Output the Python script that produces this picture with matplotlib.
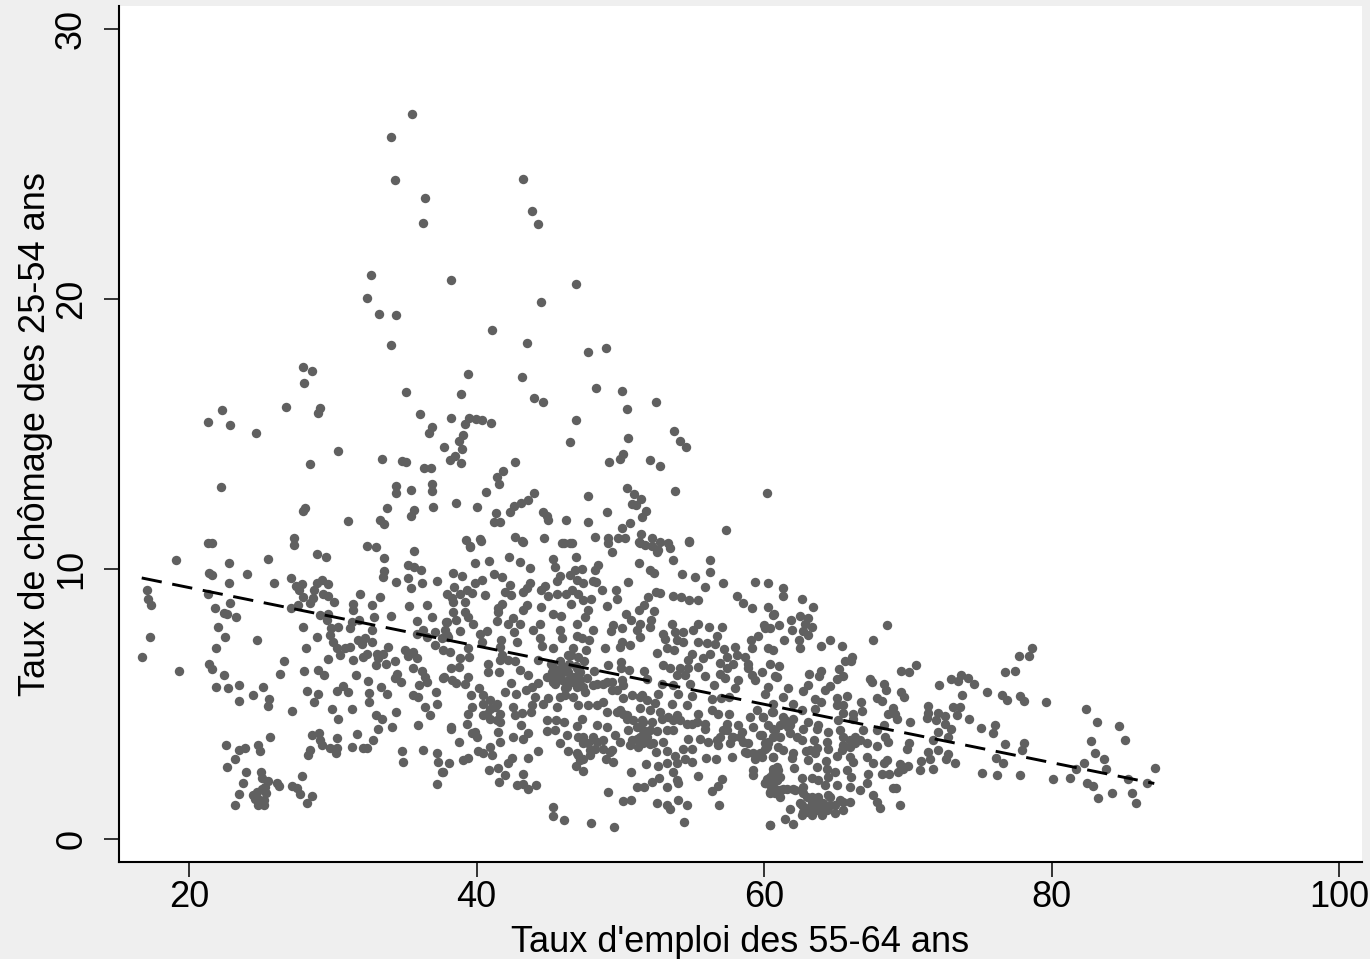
import matplotlib
matplotlib.use("Agg")
import matplotlib.pyplot as plt

plt.rcParams["font.family"] = ["Liberation Sans", "DejaVu Sans"]

# (taux d'emploi 55-64, taux de chomage 25-54)
top_points = [
    (35.5,26.85),(34.05,26.0),(34.33,24.4),(36.4,23.74),(36.3,22.8),(43.2,24.45),(43.86,23.26),(44.28,22.78),
    (32.66,20.89),(38.2,20.7),(46.9,20.56),(32.4,20.04),(44.5,19.9),(33.2,19.44),(34.4,19.4),(41.08,18.85),
    (34.05,18.3),(43.5,18.37),(49.0,18.2),(47.76,18.04),(27.93,17.48),(28.56,17.33),(39.4,17.22),(43.17,17.1),
    (28.0,16.89),(48.3,16.7),(50.1,16.6),(35.1,16.56),(38.9,16.5),(44.0,16.33),(44.63,16.19),(52.5,16.19),
    (26.75,16.0),(29.1,15.96),(29.0,15.78),(22.3,15.89),(50.5,15.93),(36.07,15.74),(21.3,15.44),(22.85,15.33),
    (24.66,15.04),(38.2,15.6),(39.48,15.6),(39.97,15.56),(40.38,15.52),(41.0,15.41),(46.9,15.52),(36.9,15.26),
    (36.7,15.04),(53.74,15.11),(54.16,14.74),(54.57,14.52),(46.5,14.7),(50.54,14.85),(39.2,15.37),(39.06,14.96),
    (38.78,14.74),(39.0,14.44),(38.5,14.19),(38.16,14.04),(38.9,13.93),(37.74,14.52),(30.37,14.37),(28.42,13.89),
    (33.43,14.07),(34.8,14.0),(35.1,13.96),(36.35,13.74),(36.83,13.74),(42.68,13.96),(49.2,13.96),(50.2,14.26),
    (50.0,14.07),(52.07,14.04),(52.76,13.81),(41.84,13.63),(41.43,13.41),(22.2,13.04),(34.4,13.07),(41.57,13.15),
    (36.9,13.15),(36.9,12.89),(34.4,12.8),(35.44,12.93),(40.66,12.85),(50.47,13.0),(53.8,12.89),(60.2,12.81),
    (47.76,12.7),(50.96,12.78),(51.44,12.6),(44.0,12.81),(43.58,12.56),(43.1,12.44),(42.6,12.33),(33.77,12.26),
    (28.1,12.26),(27.96,12.15),(35.65,12.19),(35.44,11.96),(36.97,12.3),(38.57,12.44),(40.0,12.3),(42.33,12.11),
    (41.36,12.07),(41.2,11.74),(41.63,11.74),(44.63,12.11),(44.9,11.96),(44.97,11.81),(46.2,11.81),(47.76,11.74),
    (49.08,12.11),(51.1,12.37),(50.8,12.4),(51.8,12.15),(51.5,11.93),(50.68,11.7),(50.1,11.52),(57.36,11.44),
    (31.06,11.78),(33.29,11.81),(33.57,11.67),(32.4,10.85),(33.0,10.81),(27.3,11.15),(27.3,10.89),(21.3,10.96),
    (21.6,10.96),(39.27,11.07),(39.55,10.85),(40.24,11.11),(42.68,11.19),(43.17,11.04),(44.7,11.15),(45.95,10.96),
    (46.5,10.96),(48.24,11.19),(49.15,11.15),(49.84,11.15),(50.33,11.15),(51.44,11.3),(51.3,11.0),(51.7,10.89),
    (52.2,11.15),(52.76,11.0),(52.6,10.7),(54.78,11.04),(53.46,10.78),
]

left_points = [
    (28.88,10.55),(29.53,10.43),(19.07,10.35),(25.52,10.38),(33.59,10.4),(35.68,10.67),(22.76,10.23),(35.26,10.16),
    (35.65,10.08),(36.14,9.98),(21.41,9.86),(21.6,9.79),(24.06,9.8),(33.57,9.93),(33.47,9.69),(27.1,9.66),
    (22.78,9.49),(25.94,9.47),(34.4,9.53),(35.26,9.67),(36.19,9.47),(37.28,9.56),(29.23,9.59),(28.88,9.49),
    (29.69,9.44),(27.84,9.44),(27.44,9.37),(27.68,9.22),(28.7,9.24),(29.3,9.09),(35.42,9.29),(17.06,9.24),
    (17.17,8.9),(17.38,8.66),(21.34,9.09),(31.9,9.09),(33.29,8.97),(37.92,9.09),(38.27,8.91),(27.95,8.97),
    (28.65,8.91),(28.42,8.75),(29.69,8.99),(30.09,8.77),(22.88,8.76),(31.43,8.72),(32.71,8.67),(35.3,8.64),
    (36.58,8.65),(21.81,8.55),(22.43,8.39),(22.62,8.35),(23.29,8.24),(27.07,8.54),(27.6,8.66),(31.43,8.48),
    (29.11,8.29),(29.69,8.35),(29.58,8.13),(32.89,8.24),(34.08,8.27),(36.88,8.23),(31.85,8.13),(31.32,8.05),
    (31.2,7.8),(35.88,8.06),(37.92,8.05),(22.04,7.87),(27.95,7.86),(30.34,7.86),(29.85,7.8),(32.71,7.74),
    (36.26,7.76),(37.11,7.68),(37.81,7.74),(17.29,7.5),(22.53,7.49),(28.93,7.5),(29.81,7.55),(35.84,7.59),
    (36.53,7.49),(37.58,7.43),(38.04,7.49),(24.71,7.38),(30.04,7.3),(31.78,7.37),(32.24,7.43),(32.71,7.3),
    (32.01,7.24),(21.88,7.06),(28.12,7.06),(30.27,7.06),(31.2,7.12),(30.85,7.06),(37.11,7.18),(33.87,7.12),
    (35.03,7.0),(35.61,6.93),(37.65,7.0),(16.71,6.76),(30.5,6.81),(32.36,6.87),(33.05,6.87),(33.52,6.87),
    (35.26,6.77),(32.13,6.75),(29.67,6.67),(31.41,6.65),(35.84,6.69),(26.59,6.6),(33.12,6.72),(34.35,6.6),
    (33.01,6.44),(33.7,6.5),(19.33,6.22),(21.41,6.47),(21.62,6.28),(35.61,6.35),(36.19,6.23),(28.02,6.24),
    (28.95,6.26),(29.41,6.09),(26.31,6.11),(22.41,6.09),(31.59,6.07),(34.45,6.11),(34.33,5.95),(36.42,6.01),
    (37.69,5.98),(32.43,5.87),(34.75,5.82),(36.53,5.82),(21.9,5.65),(22.74,5.58),(23.5,5.7),(25.12,5.64),
    (30.69,5.66),(33.36,5.64),(36.02,5.7),(24.48,5.33),(28.23,5.48),(30.27,5.48),(31.08,5.43),(32.54,5.42),
    (29.0,5.37),(33.75,5.37),(35.61,5.35),(35.95,5.27),(37.16,5.45),(23.48,5.13),(25.57,5.17),(25.47,4.92),
    (28.7,5.08),(32.54,5.06),(29.92,4.83),(31.34,4.83),(37.23,5.0),(36.39,4.9),(27.14,4.74),(34.4,4.71),
    (32.99,4.59),(36.76,4.6),(30.39,4.43),(33.45,4.43),(35.95,4.24),(34.15,4.16),(33.17,4.08),(31.71,3.9),
    (29.04,3.93),(28.53,3.85),(29.11,3.66),(30.3,3.76),(32.8,3.66),(25.63,3.77),(22.57,3.48),(24.82,3.48),
    (23.9,3.39),(23.48,3.3),(24.94,3.27),(29.23,3.5),(29.81,3.39),(30.27,3.39),(30.23,3.19),(31.34,3.42),
    (32.08,3.37),(32.41,3.37),(34.79,3.28),(36.28,3.29),(28.42,3.29),(28.26,3.11),(23.18,2.98),(37.28,3.19),
    (34.91,2.84),(37.34,2.85),(22.62,2.67),(23.97,2.49),(24.99,2.5),(37.62,2.5),(27.88,2.34),(25.1,2.28),
    (25.52,2.16),(26.1,2.09),(26.28,1.97),(23.73,2.06),(37.28,2.04),(27.19,1.98),(27.49,1.91),(25.29,1.93),
    (25.06,1.87),(24.71,1.75),(24.48,1.63),(23.5,1.66),(27.72,1.66),(28.56,1.6),(25.33,1.69),(24.82,1.5),
    (25.22,1.44),(23.2,1.28),(24.78,1.28),(25.22,1.28),(28.19,1.35),(24.59,1.5),
]

middle_points = [
    (39.55,10.82),(40.29,11.05),(43.26,11.0),(46.09,10.97),(46.62,10.97),(49.17,10.95),(49.45,10.64),(51.37,10.97),
    (52.19,10.85),(52.58,10.64),(53.35,10.97),(54.81,11.0),(42.26,10.45),(40.87,10.28),(39.87,10.21),(43.03,10.25),
    (43.72,10.03),(45.34,10.39),(45.46,10.08),(46.92,10.45),(48.48,10.14),(48.24,9.96),(51.3,10.24),(53.69,10.33),
    (56.24,10.33),(52.07,9.98),(52.37,9.86),(56.24,9.9),(54.27,9.81),(55.2,9.71),(38.39,9.84),(38.97,9.75),
    (41.24,9.81),(41.8,9.71),(40.36,9.59),(39.9,9.47),(42.33,9.4),(43.72,9.49),(43.49,9.28),(45.81,9.74),
    (45.58,9.56),(46.85,9.96),(47.32,10.02),(46.5,9.77),(46.97,9.59),(47.43,9.5),(48.13,9.56),(48.31,9.53),
    (50.56,9.53),(57.17,9.48),(59.37,9.53),(60.3,9.49),(55.9,9.34),(38.43,9.32),(39.31,9.22),(38.85,9.09),
    (39.66,9.13),(40.59,9.03),(41.98,9.16),(42.38,9.03),(44.76,9.37),(44.46,9.22),(43.26,9.16),(44.96,8.99),
    (45.58,9.09),(46.23,9.09),(46.62,9.22),(47.08,9.09),(47.43,8.85),(47.96,8.88),(48.71,9.24),(49.68,9.22),
    (49.8,8.9),(52.49,9.16),(52.76,9.13),(51.91,8.97),(53.65,8.99),(54.2,8.97),(54.81,8.85),(55.43,8.87),
    (58.15,9.02),(58.56,8.75),(59.19,8.56),(38.39,8.79),(39.2,8.79),(41.75,8.72),(41.52,8.54),(41.52,8.42),
    (46.55,8.7),(44.49,8.6),(43.49,8.66),(43.21,8.5),(49.06,8.63),(51.65,8.66),(51.3,8.48),(52.35,8.45),
    (60.3,8.6),(60.65,8.29),(38.39,8.42),(39.2,8.42),(39.43,8.21),(45.34,8.35),(45.85,8.27),(47.78,8.48),
    (47.55,8.21),(50.38,8.33),(50.73,8.11),(51.37,7.98),(52.12,8.11),(52.07,7.86),(37.88,8.05),(38.57,8.13),
    (39.78,7.96),(41.4,8.07),(42.52,8.17),(42.21,7.98),(43.03,7.96),(44.42,7.96),(47.01,7.96),(53.62,7.95),
    (55.43,7.96),(56.2,7.86),(57.06,7.84),(59.99,7.92),(38.85,7.71),(40.71,7.71),(40.24,7.61),(42.61,7.67),
    (43.95,7.74),(45.81,7.74),(48.13,7.74),(49.52,7.92),(49.33,7.71),(50.14,7.8),(51.14,7.74),(52.99,7.58),
    (53.81,7.67),(54.39,7.67),(55.04,7.74),(60.42,7.8),(59.61,7.51),(37.92,7.55),(44.42,7.46),(46.97,7.51),
    (45.92,7.43),(47.85,7.37),(47.32,7.43),(51.37,7.49),(56.71,7.51),(53.11,7.4),(53.97,7.39),(40.36,7.3),
    (41.7,7.39),(42.79,7.3),(50.1,7.3),(50.68,7.18),(49.98,7.12),(54.39,7.3),(55.43,7.3),(56.01,7.27),
    (56.59,7.22),(59.07,7.37),(39.43,7.06),(41.63,7.12),(44.53,7.14),(45.34,7.08),(48.94,7.06),(47.59,6.99),
    (46.74,7.06),(53.23,7.09),(53.76,6.99),(57.22,7.03),(57.98,7.12),(59.19,7.06),(60.3,7.09),(60.65,6.99),
    (38.16,6.93),(39.5,6.75),(52.58,6.9),(54.97,6.85),(56.24,6.87),(41.75,6.81),(46.39,6.81),(47.08,6.75),
    (38.85,6.69),(41.63,6.63),(42.21,6.65),(44.3,6.63),(45.81,6.6),(55.78,6.72),(54.74,6.63),(58.1,6.81),
    (58.68,6.75),(57.4,6.75),(40.82,6.48),(38.8,6.38),(38.2,6.35),(42.68,6.6),(49.17,6.43),(50.05,6.56),
    (50.05,6.32),(52.99,6.44),(56.94,6.53),(57.87,6.5),(58.91,6.5),(60.42,6.48),(55.43,6.38),(53.46,6.32),
    (54.16,6.32),(54.74,6.32),(45.34,6.38),(46.04,6.38),(46.97,6.32),(43.03,6.26),(41.59,6.19),(40.82,6.17),
    (48.2,6.22),(50.63,6.26),(51.65,6.23),(57.4,6.32),(58.91,6.32),(43.6,6.09),(55.9,6.05),(56.94,6.13),
    (53.92,6.07),(54.5,6.07),(59.84,6.17),(60.88,6.01),(59.14,6.07),(39.43,6.01),(37.74,6.01),(38.27,5.88),
    (44.88,6.01),(45.81,6.07),(46.5,5.95),(47.08,6.07),(47.66,5.95),(49.05,5.82),(50.1,5.88),(51.84,5.91),
    (57.29,5.98),(58.21,5.88),(59.37,5.88),(39.2,5.76),(38.57,5.79),(42.4,5.79),(44.3,5.79),(43.84,5.64),
    (45.34,5.82),(52.88,5.76),(54.85,5.76),(53.69,5.7),(56.52,5.69),(57.98,5.58),(60.3,5.64),(50.21,5.7),
    (48.13,5.7),(40.2,5.58),(41.98,5.45),(42.75,5.39),(43.44,5.51),(46.27,5.64),(46.97,5.64),(47.43,5.64),
    (49.4,5.51),(52.65,5.39),(54.04,5.39),(54.97,5.3),(60.07,5.39),(39.59,5.33),(40.47,5.33),(44.07,5.27),
    (44.98,5.21),(46.15,5.33),(46.74,5.27),(50.21,5.21),(51.49,5.33),(51.84,5.14),(56.36,5.17),(57.59,5.27),
    (56.99,5.21),(40.47,5.02),(41.4,5.02),(42.56,4.9),(43.84,4.96),(44.65,5.02),(45.58,4.9),(47.08,4.96),
    (47.78,4.96),(48.82,5.08),(48.36,4.96),(51.37,4.86),(52.42,5.04),(53.58,5.02),(54.62,4.96),(39.66,4.9),
    (40.94,4.83),(39.43,4.65),(43.77,4.71),(49.06,4.71),(49.75,4.71),(52.07,4.77),(52.76,4.71),(53.92,4.59),
    (55.43,4.65),(56.36,4.77),(56.82,4.65),(57.59,4.63),(59.03,4.53),(59.49,4.77),(59.91,4.53),(60.53,4.71),
    (40.47,4.59),(42.68,4.59),(43.14,4.67),(41.63,4.65),(50.21,4.65),(40.94,4.46),(41.63,4.34),(39.31,4.28),
    (38.23,4.16),(43.09,4.24),(44.88,4.4),(45.53,4.4),(46.09,4.32),(47.32,4.43),(50.45,4.46),(51.49,4.4),
    (52.19,4.34),(52.88,4.46),(53.69,4.4),(54.62,4.28),(55.32,4.34),(55.9,4.28),(57.4,4.28),(58.21,4.22),
    (59.26,4.16),(46.97,4.18),(48.36,4.22),(49.06,4.16),(38.23,4.09),(41.52,3.97),(39.87,3.97),(44.88,4.01),
    (45.46,4.03),(46.27,3.85),(49.63,3.85),(50.56,4.03),(51.61,4.03),(52.53,4.01),(53.23,4.03),(55.9,4.09),
    (57.17,4.03),(58.44,3.97),(59.72,3.85),(60.65,4.09),(39.66,3.91),(40.01,3.79),(42.52,3.79),(43.6,3.91),
    (43.21,3.69),(47.08,3.79),(48.13,3.79),(51.14,3.72),(51.84,3.79),(54.69,3.7),(56.94,3.79),(57.87,3.79),
    (55.55,3.72),(38.8,3.6),(41.63,3.6),(45.81,3.54),(47.43,3.54),(48.36,3.6),(49.98,3.6),(50.68,3.48),
    (51.26,3.41),(52.07,3.51),(52.99,3.6),(56.13,3.6),(58.56,3.6),(60.3,3.6),(40.94,3.42),(40.13,3.27),
    (40.47,3.19),(41.1,3.11),(44.25,3.27),(46.39,3.26),(48.82,3.35),(49.4,3.29),(52.49,3.23),(53.23,3.27),
    (54.39,3.35),(54.97,3.35),(56.82,3.48),(57.75,3.05),(58.79,3.17),(60.07,3.35),(43.6,3.02),(46.97,3.17),
    (47.9,3.11),(39.43,3.02),(39.04,2.92),(38.09,2.8),(42.45,3.02),(42.21,2.8),(47.2,2.92),(49.52,2.86),
    (48.98,2.95),(53.81,3.08),(54.5,2.98),(55.97,3.02),(56.66,2.98),(59.37,2.98),(60.65,3.05),(54.97,2.86),
    (51.77,2.77),(52.6,2.71),(53.23,2.8),(53.97,2.8),(46.92,2.72),(40.89,2.55),(41.52,2.65),(47.43,2.53),
    (50.72,2.49),(37.69,2.49),(41.98,2.37),(43.21,2.4),(59.21,2.55),(59.26,2.37),(60.65,2.61),(53.69,2.49),
    (52.72,2.28),(55.39,2.34),(41.59,2.13),(42.79,2.02),(43.26,2.03),(44.12,2.02),(43.58,1.87),(52.19,2.12),
    (53.92,2.18),(57.06,2.22),(60.3,2.18),(60.77,2.24),(51.14,1.93),(51.68,1.93),(53.23,1.93),(54.04,2.08),
    (56.78,1.96),(56.36,1.79),(49.12,1.75),(60.42,1.69),(61.0,1.81),(50.17,1.42),(50.72,1.44),(52.53,1.32),
    (53.23,1.25),(54.04,1.44),(54.62,1.28),(53.46,1.13),(56.87,1.28),(45.3,1.19),(45.34,0.85),(46.11,0.72),
    (47.96,0.58),(49.59,0.43),(54.41,0.65),(60.4,0.51),
    (46.0,6.2),(46.4,6.5),(46.8,6.0),(46.2,5.8),(45.8,6.3),(47.2,6.2),(46.6,6.8),(47.0,5.7),
    (45.5,6.0),(46.9,6.4),(47.5,6.6),(45.2,6.5),
]

right_points = [
    (61.3,9.28),(61.3,9.01),(62.62,8.88),(63.41,8.58),(60.69,8.35),(61.85,8.1),(62.5,8.26),(63.08,8.19),
    (62.85,7.98),(63.31,7.84),(61.04,7.92),(61.97,7.76),(62.73,7.71),(63.04,7.55),(60.07,7.8),(68.56,7.92),
    (67.56,7.39),(61.39,7.39),(62.46,7.37),(62.5,7.08),(63.94,7.14),(64.57,7.38),(65.4,7.14),(66.1,6.75),
    (65.63,6.6),(66.03,6.6),(61.06,6.4),(70.55,6.43),(69.55,6.23),(70.06,6.17),(78.67,7.06),(77.72,6.77),
    (78.46,6.77),(76.79,6.19),(77.44,6.22),(73.01,5.91),(73.68,6.07),(73.52,5.86),(74.17,5.96),(74.63,5.76),
    (72.17,5.72),(63.11,6.11),(63.96,6.23),(63.8,6.03),(65.24,6.28),(65.47,6.03),(65.1,5.91),(60.76,6.03),
    (67.37,5.91),(67.53,5.82),(68.35,5.76),(68.49,5.51),(63.04,5.7),(62.73,5.49),(61.69,5.58),(64.59,5.66),
    (64.24,5.51),(65.1,5.24),(65.8,5.3),(67.88,5.24),(68.21,5.11),(69.51,5.45),(69.74,5.27),(73.8,5.33),
    (75.54,5.44),(76.53,5.35),(76.88,5.14),(77.83,5.3),(78.11,5.12),(79.59,5.08),(61.34,5.27),(63.58,5.18),
    (63.94,5.06),(66.75,5.08),(60.65,5.02),(62.04,5.02),(65.1,4.96),(65.52,4.96),(71.38,4.92),(73.12,4.9),
    (73.63,4.9),(82.38,4.82),(59.95,4.53),(60.65,4.71),(62.62,4.77),(63.55,4.83),(65.52,4.67),(66.84,4.75),
    (68.95,4.87),(68.65,4.65),(69.11,4.65),(71.43,4.67),(72.13,4.67),(72.59,4.55),(73.45,4.59),(66.21,4.65),
    (65.17,4.4),(66.21,4.46),(69.23,4.44),(71.32,4.49),(71.96,4.4),(74.24,4.45),(70.16,4.34),(83.14,4.33),
    (76.07,4.24),(84.67,4.17),(61.34,4.53),(62.04,4.46),(63.08,4.34),(63.78,4.22),(60.3,4.22),(68.35,4.22),
    (72.59,4.28),(75.09,4.13),(60.76,4.03),(61.69,4.16),(62.73,4.06),(64.47,3.97),(63.66,4.09),(65.29,4.03),
    (66.91,4.03),(67.84,4.03),(72.13,3.97),(72.99,4.06),(75.95,3.93),(59.84,3.85),(61.11,3.79),(61.81,3.91),
    (62.62,3.66),(63.48,3.66),(64.36,3.6),(66.33,3.79),(66.68,3.66),(68.42,3.79),(72.78,3.79),(71.78,3.66),
    (78.11,3.56),(76.76,3.53),(82.77,3.65),(85.09,3.66),(60.3,3.54),(61.34,3.29),(62.04,3.17),(62.9,3.27),
    (63.66,3.39),(64.47,3.32),(65.52,3.48),(65.98,3.42),(67.14,3.54),(67.88,3.44),(68.65,3.58),(70.09,3.54),
    (69.92,3.35),(72.13,3.29),(71.43,3.23),(77.92,3.29),(83.0,3.19),(59.84,3.05),(60.65,3.05),(61.97,3.01),
    (63.08,2.92),(65.05,3.07),(65.98,3.05),(67.14,3.05),(72.78,3.14),(72.66,2.98),(71.55,2.95),(76.14,3.02),
    (83.63,2.98),(64.31,2.9),(66.21,2.86),(67.6,2.8),(68.53,2.92),(68.35,2.82),(70.94,2.88),(73.31,2.82),
    (76.6,2.82),(82.24,2.8),(60.88,2.67),(62.11,2.65),(63.66,2.67),(69.46,2.77),(70.04,2.7),(69.69,2.61),
    (70.85,2.56),(71.78,2.58),(81.68,2.61),(83.79,2.6),(87.18,2.65),(69.34,2.49),(64.36,2.61),(64.94,2.49),
    (65.75,2.55),(60.65,2.43),(68.18,2.4),(68.72,2.4),(67.26,2.4),(75.19,2.46),(76.23,2.39),(77.83,2.39),
    (60.18,2.24),(61.11,2.3),(62.62,2.28),(63.31,2.28),(64.47,2.3),(66.03,2.3),(80.08,2.22),(81.26,2.27),
    (85.34,2.21),(67.14,2.06),(60.65,2.06),(61.57,1.87),(62.73,1.93),(63.78,2.18),(64.24,2.0),(65.05,1.99),
    (65.98,1.93),(66.68,1.81),(82.49,2.09),(82.91,1.96),(86.67,2.06),(68.98,1.91),(69.18,1.91),(60.42,1.75),
    (61.11,1.56),(62.15,1.81),(63.31,1.56),(64.47,1.63),(67.6,1.65),(84.18,1.71),(85.58,1.71),(83.21,1.53),
    (67.84,1.38),(65.29,1.44),(65.98,1.38),(65.52,1.38),(85.9,1.35),(69.44,1.26),(68.09,1.14),(62.62,1.26),
    (63.55,1.32),(64.59,1.26),(61.81,1.13),(62.97,1.13),(64.01,1.07),(64.94,0.95),(65.52,1.09),(62.62,0.88),
    (63.31,0.88),(61.46,0.76),(60.42,0.51),(62.04,0.56),(64.01,0.88),
    (60.07,2.06),(60.76,1.87),(61.11,1.81),(60.76,2.55),(60.88,2.18),(60.42,2.3),(62.04,1.87),(62.5,1.32),
    (62.97,1.56),(63.78,1.56),(64.13,1.32),(63.2,1.19),(63.66,1.07),(62.73,1.01),(64.47,1.19),
]

# overlapping marks in the darkest part of the cloud
dense_points = [
    (45.23,6.19),(45.58,6.0),(45.46,5.76),(45.92,5.88),(46.39,6.19),(46.74,5.82),(46.16,5.58),(45.81,5.27),
    (47.2,5.88),(47.55,5.45),(48.36,5.76),(48.82,5.76),(49.4,5.82),(49.75,5.51),(50.79,5.33),(51.37,5.27),
    (49.98,4.77),(50.45,4.59),(50.91,4.4),(51.61,4.34),(51.14,4.16),(52.07,4.03),(51.37,3.79),(50.79,3.66),
    (51.61,3.54),(52.3,3.54),(53.35,4.53),(54.16,4.4),(54.97,4.28),(53.69,4.03),(56.71,3.66),(57.4,4.03),
    (57.75,3.79),(58.33,3.79),(58.91,3.54),(58.68,3.23),(59.26,3.17),(59.72,3.17),(60.19,3.42),(57.64,3.54),
    (47.43,3.79),(47.78,3.54),(48.24,3.35),(47.9,3.29),(47.08,3.11),(47.43,2.98),(48.82,3.66),(49.28,3.23),
    (40.94,5.14),(41.29,4.9),(40.71,4.65),(41.4,4.4),(60.65,2.43),(60.88,2.18),(60.42,2.0),(61.0,2.55),
    (60.07,2.06),(60.77,1.69),(61.46,4.4),(61.81,4.22),(61.11,4.22),(62.27,3.79),(60.65,3.79),(60.07,3.54),
    (60.99,3.42),(65.52,3.79),(65.98,3.66),(65.4,3.29),(66.33,3.54),(63.2,3.29),(63.55,3.17),(60.42,2.12),
    (61.34,1.87),(60.99,1.69),(60.65,1.75),(62.73,1.69),(63.31,1.38),(63.89,1.26),(64.59,1.56),(64.94,1.26),
    (64.36,1.07),(63.08,1.01),
]

fit_x = [16.71, 87.15]
fit_y = [9.67, 2.06]

x_ticks = [20, 40, 60, 80, 100]
y_ticks = [0, 10, 20, 30]

all_points = top_points + left_points + middle_points + right_points + dense_points
emp = [p[0] for p in all_points]
unemp = [p[1] for p in all_points]

fig = plt.figure(figsize=(13.7, 9.59), dpi=100, facecolor="#efefef")
ax = fig.add_axes([119 / 1370, (959 - 861.5) / 959, (1362 - 119) / 1370, (861.5 - 6) / 959])
ax.set_facecolor("white")

ax.scatter(emp, unemp, s=46, color="#606060", linewidths=0, zorder=2)
ax.plot(fit_x, fit_y, color="black", lw=2.1, dashes=(7.0, 3.67), zorder=3)

ax.set_xlim(15.13, 101.6)
ax.set_ylim(-0.83, 30.85)
ax.set_xticks(x_ticks)
ax.set_yticks(y_ticks)

ax.spines["top"].set_visible(False)
ax.spines["right"].set_visible(False)
ax.spines["left"].set_linewidth(1.5)
ax.spines["bottom"].set_linewidth(1.5)

ax.tick_params(axis="x", length=10.5, width=1.1, labelsize=26, pad=3)
ax.tick_params(axis="y", length=10.5, width=1.1, labelsize=26, pad=11)
plt.setp(ax.get_yticklabels(), rotation=90, va="center")

ax.set_xlabel("Taux d'emploi des 55-64 ans", fontsize=26, labelpad=7)
ax.set_ylabel("Taux de chômage des 25-54 ans", fontsize=26, labelpad=1)

fig.savefig("out.png", dpi=100, facecolor=fig.get_facecolor())
